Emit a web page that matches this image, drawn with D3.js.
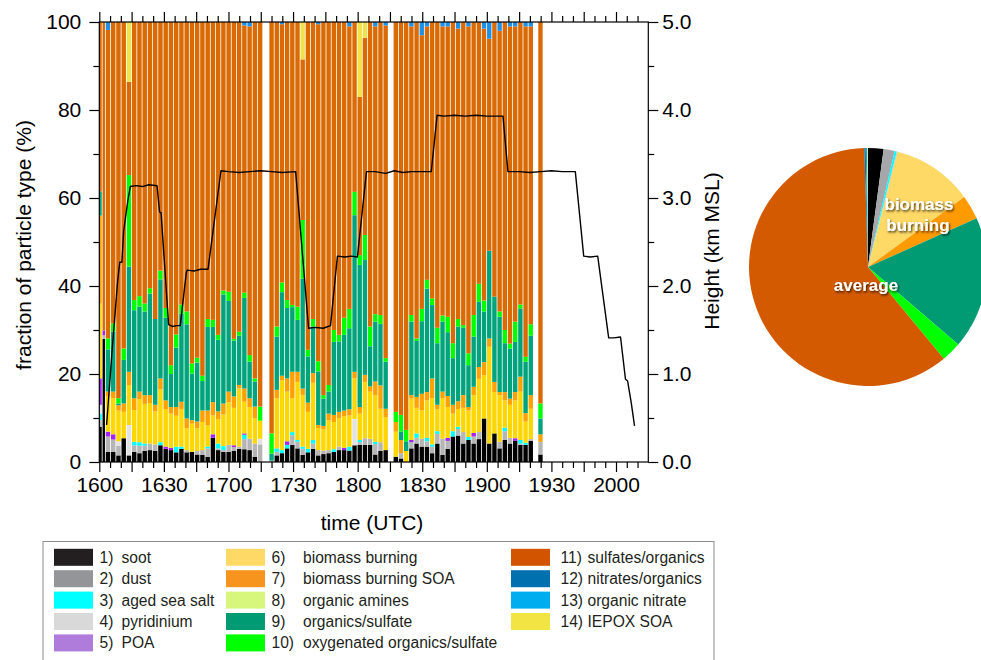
<!DOCTYPE html>
<html>
<head>
<meta charset="utf-8">
<title>Particle types and flight height</title>
<script src="https://cdn.jsdelivr.net/npm/d3@7"></script>
<style>
  body { margin: 0; background: #fff; }
  svg text { font-family: "Liberation Sans", Arial, Helvetica, sans-serif; }
</style>
</head>
<body>
<div id="chart"></div>
<script>
// ---- data ----

// particle classes, in stacking / legend order
var categories = ["soot", "dust", "aged sea salt", "pyridinium", "POA",
  "biomass burning", "biomass burning SOA", "organic amines", "organics/sulfate",
  "oxygenated organics/sulfate", "sulfates/organics", "nitrates/organics",
  "organic nitrate", "IEPOX SOA"];
var keys = ["soot", "dust", "seaSalt", "pyridinium", "poa", "biomass", "biomassSOA",
  "amines", "orgSulfate", "oxySulfate", "sulfates", "nitrates", "orgNitrate", "iepox"];

// sampling periods (minutes after 16:00 UTC) and number of bars in each
var segStart = [0, 3.0, 79.0, 136.7, 203.9];
var segEnd   = [3.0, 76.1, 134.4, 201.8, 206.3];
var segBars  = [2, 30, 23, 27, 1];

// fraction of particle type (%) per bar
var soot = [8, 28, 2.3, 2.3, 1.5, 5.4, 1.5, 2.3, 2, 2.5, 2.7, 2.5, 3.8, 3, 2.7, 2.2, 3, 2.2, 2.3, 1.7, 1.6, 1.2, 5.5, 2.7, 2.3, 2.3, 2.5, 3, 2.9, 2.7, 1.2, 0,
  0, 1.5, 2, 3.1, 3.9, 3.1, 1.6, 2.2, 3, 1.5, 1.8, 2, 2.3, 2.7, 2.7, 2.6, 3.8, 3.9, 3.9, 3.9, 1.7, 2.5, 2.7,
  1.2, 0.8, 0, 3.1, 4.2, 3.5, 3.5, 2, 4.2, 1.6, 3, 5.8, 6, 4.2, 5, 4.2, 5.2, 9.9, 4.2, 6.5, 3.1, 5, 4.2, 4.8, 3.9, 3.9, 4.8,
  1.7];
var dust = [1.5, 0.8, 3.5, 2.8, 2.2, 0, 0, 1.5, 1.7, 1.2, 1.5, 1.5, 0, 0, 0, 0, 0, 0.5, 0, 0.8, 1.1, 1.9, 0, 0.4, 0.4, 1.6, 0.9, 0.5, 2.3, 2.6, 3, 4,
  0.3, 0.8, 0, 0, 2.2, 1.5, 1.4, 0, 1.2, 1.2, 0.8, 0.7, 0, 0.8, 0, 0, 0, 0.6, 1.5, 1.4, 2.4, 2, 0,
  0, 1.2, 0, 1.4, 1.3, 1.8, 1.2, 1.5, 2.2, 3.7, 1.8, 0, 1.5, 2.6, 0, 1.6, 1.6, 0, 0, 0, 1.5, 2, 1.3, 0, 0.3, 0, 0.4,
  2.9];
var seaSalt = [1.5, 0, 0, 0, 0, 0, 0, 0.8, 0.8, 0.5, 0, 0, 0.7, 0, 0, 1.3, 0.5, 0, 0, 0, 0, 0.4, 0, 1.1, 0.9, 0, 0, 0, 1, 0, 0, 0,
  0, 0.8, 0.7, 0.8, 0.7, 0.4, 0.5, 0.8, 0.8, 0, 0, 0, 0.6, 0, 0, 0.9, 0, 0.5, 0, 0, 0.5, 0, 0,
  0, 0, 0, 0, 1, 0, 0.8, 0.5, 0.6, 0, 0, 1.2, 0.5, 0, 0.7, 0, 0, 0, 0, 0, 0, 0.8, 0, 0, 0.8, 0.5, 0,
  0];
var pyridinium = [2, 0, 0, 0, 1, 0, 6.9, 0, 0, 0, 0, 0, 0, 0, 0, 0, 0, 0, 0, 0, 0, 0, 0, 0, 0, 0, 0, 0, 0, 0, 0, 1.3,
  0, 0, 0, 0, 0, 0, 0, 0, 0, 0, 0, 0, 0, 0, 0, 0, 6, 0, 0, 0, 0, 0, 0,
  0, 0, 0, 0, 0, 0, 0, 0, 0, 0, 0, 0, 0, 0, 0, 0, 0, 0, 0, 0, 0, 0, 0, 0, 0, 0, 0,
  0];
var poa = [6, 1.1, 1.1, 1.2, 0, 0, 0, 0, 0, 0, 0, 0, 0, 0.5, 0.5, 0, 0, 0, 0, 0, 0, 0, 0.8, 0, 0, 0, 0.4, 0, 0.3, 0, 0, 0,
  0, 0, 0, 0.8, 0, 0, 0, 0, 0, 0, 0, 0, 0, 0, 0.5, 0, 0, 0, 0, 0, 0, 0, 0,
  0, 0, 0, 0.5, 0, 0, 0, 0, 0, 0, 0.7, 0, 0, 0, 0, 0.8, 0, 0, 0, 0, 0, 0, 0, 0.6, 0, 0, 0,
  0];
var biomass = [17, 0, 8, 8.2, 7, 6, 9.1, 7.2, 9.8, 9, 9.2, 7.5, 12, 8.5, 7.8, 7, 8.5, 5, 6.4, 5.2, 6.4, 4.8, 4.3, 5.5, 7.2, 9.7, 8.5, 13.2, 7.2, 7.2, 5.8, 4.1,
  0, 11.4, 15.8, 11.3, 7.7, 13.2, 11.7, 8.4, 13, 5, 4.8, 6.8, 6.2, 6.5, 7.2, 7.1, 9.2, 6, 12.8, 10.7, 10.6, 7.6, 7.5,
  5.7, 0, 2.5, 9.4, 5.8, 6.4, 8.5, 10.5, 5, 9.2, 7, 4, 4, 5.5, 6, 8.6, 12.1, 9.8, 22, 9.4, 10.6, 6.2, 7.5, 8.6, 11, 4.8, 6.9,
  0];
var biomassSOA = [20, 0, 1.1, 1.5, 1.2, 1.9, 3, 2.7, 1.7, 2, 1.8, 1.5, 2.5, 2, 1.5, 2, 1.7, 2.2, 0.8, 1.5, 2.6, 3.4, 3, 1.8, 2.5, 2.4, 2.6, 0.8, 3, 2, 2.6, 0,
  0, 1.9, 1.1, 3, 6, 2.3, 1.5, 2.1, 2.2, 0.7, 0.8, 1.5, 1.6, 1.4, 1.3, 1.4, 1.5, 1.5, 1.6, 1.2, 3.1, 5.3, 1.9,
  2.2, 3, 0, 0.8, 2.5, 3.8, 1.9, 4.5, 1, 1.5, 2.5, 2, 1.8, 2.9, 0.8, 1.9, 2.7, 3, 1.9, 2.3, 0.7, 1.9, 1.4, 1.9, 3.4, 1.9, 3.1,
  1.7];
var amines = [0, 0, 0, 0, 0, 0, 0, 0, 0, 0, 0, 0, 0, 0, 0, 0, 0, 0, 0, 0, 0, 0, 0, 0, 0, 0, 0, 0, 0, 0, 0, 0,
  0, 0, 0, 0, 0, 0, 0, 0, 0, 0, 0, 0, 0, 0, 0, 0, 0, 0, 0, 0, 0, 0, 0,
  0, 0, 0, 0, 0, 0, 0, 0, 0, 0, 0, 0, 0, 0, 0, 0, 0, 0, 0, 0, 0, 0, 0, 0, 0, 0, 0,
  0];
var orgSulfate = [5.5, 0, 9.6, 13.6, 0.4, 9.9, 23.9, 20, 19.3, 19, 23.1, 19.5, 22.5, 18.8, 7.5, 13.5, 20, 21.4, 10.6, 13.4, 6.7, 19, 17.1, 16.3, 24.8, 20.6, 12.7, 11.2, 20.6, 8.3, 5.7, 0,
  1.6, 12.1, 19, 16, 14.7, 11.8, 25, 10.5, 10.6, 12.2, 6.2, 5, 16.6, 16, 17.2, 18.4, 35.6, 32.3, 26.1, 9.1, 13.6, 14, 10.7,
  0, 1.9, 2.2, 16.7, 12.7, 16.5, 23.5, 16.7, 14, 15.9, 14.5, 10.6, 17, 15.3, 9.5, 11.4, 14.8, 11.5, 19.9, 19.4, 17.1, 11.1, 11.4, 11.4, 15.5, 11.7, 13.5,
  3.6];
var oxySulfate = [0, 0, 2.5, 1.9, 1.2, 2.6, 20.8, 2.3, 2.4, 1.8, 1.2, 0, 2, 2.2, 2, 3, 2.1, 2.9, 2.3, 1.1, 1.2, 1.8, 1.6, 1.1, 0.9, 2.1, 0.4, 0.9, 1.2, 1.5, 0.7, 3.2,
  4.6, 2.3, 2.2, 1.8, 0.5, 3, 13.3, 1.5, 1.7, 2.3, 0.8, 1.5, 2.7, 1.5, 3.9, 4.4, 5.3, 2.2, 5.7, 4.5, 1.7, 2, 0.8,
  2.3, 3.8, 2.6, 1.5, 0.6, 2.8, 2, 1.5, 3.5, 1.4, 3.5, 3.4, 1.7, 0.6, 2.7, 4.9, 4.1, 2.5, 0, 0, 1.2, 3, 1.1, 4.6, 0.9, 1.1, 2.6,
  3.4];
var sulfates = [38.5, 70.1, 70.1, 68.5, 85.5, 74.2, 21.2, 63.2, 62.3, 64, 60.5, 67.5, 56.5, 65, 78, 71, 64.2, 65.8, 77.6, 76.3, 80.4, 67.5, 67.7, 71.1, 61, 61.3, 72, 70.4, 60.7, 74.7, 81, 87.4,
  93.5, 69.2, 58.7, 63.2, 64.3, 64.7, 36.5, 74.5, 67.5, 76.6, 84.8, 82.5, 70, 71.1, 67.2, 64.2, 38.6, 36, 44.8, 69.2, 65.4, 66.6, 75.6,
  88.6, 89.3, 92.7, 65.6, 71.9, 62.2, 57.6, 62.8, 69.5, 65.7, 66, 73, 66, 68.9, 74.3, 66.6, 59.5, 61.8, 48.2, 62.4, 63.8, 70, 72.1, 67.1, 64.2, 75.1, 67.7,
  86.7];
var nitrates = [0, 0, 0, 0, 0, 0, 0, 0, 0, 0, 0, 0, 0, 0, 0, 0, 0, 0, 0, 0, 0, 0, 0, 0, 0, 0, 0, 0, 0, 0, 0, 0,
  0, 0, 0, 0, 0, 0, 0, 0, 0, 0, 0, 0, 0, 0, 0, 0, 0, 0, 0, 0, 0, 0, 0,
  0, 0, 0, 0, 0, 0, 0, 0, 0, 0, 0, 0, 0, 0, 0, 0, 0, 0, 0, 0, 0, 0, 0, 0, 0, 0, 0,
  0];
var orgNitrate = [0, 0, 1.8, 0, 0, 0, 0, 0, 0, 0, 0, 0, 0, 0, 0, 0, 0, 0, 0, 0, 0, 0, 0, 0, 0, 0, 0, 0, 0.8, 1, 0, 0,
  0, 0, 0.5, 0, 0, 0, 0, 0, 0, 0.5, 0, 0, 0, 0, 0, 1, 0, 0, 0, 0, 1, 0, 0.8,
  0, 0, 0, 1, 0, 3, 1, 0, 0, 1, 1, 0, 1.5, 0, 1, 0, 0, 1.5, 3.8, 0, 2, 0, 1, 1, 0, 1, 1,
  0];
var iepox = [0, 0, 0, 0, 0, 0, 13.6, 0, 0, 0, 0, 0, 0, 0, 0, 0, 0, 0, 0, 0, 0, 0, 0, 0, 0, 0, 0, 0, 0, 0, 0, 0,
  0, 0, 0, 0, 0, 0, 8.5, 0, 0, 0, 0, 0, 0, 0, 0, 0, 0, 17, 3.6, 0, 0, 0, 0,
  0, 0, 0, 0, 0, 0, 0, 0, 0, 0, 0, 0, 0, 0, 0, 0, 0, 0, 0, 0, 0, 0, 0, 0, 0, 0, 0,
  0];

// flight altitude (minutes after 16:00, km MSL)
var heightTime = [3.4, 5.9, 8.5, 9.5, 10.5, 11.3, 13.2, 14.4, 17, 20, 23, 26.8, 28, 28.7, 32.2, 34, 36, 37.6, 40.4, 40.8, 44, 47, 50.5,
  56.5, 60, 65, 70, 75, 80, 85, 91.2, 97.2, 100, 104, 107.4, 110.6, 114, 117, 119.9, 124.1, 128, 133, 137, 141, 145, 150, 154.2,
  156.9, 160, 165, 170, 175, 180, 187.5, 189.8, 195, 200, 205, 210, 215, 221.1, 225, 228, 231.5, 236.6, 239, 242.1, 244.4, 245.4, 247.1, 248.6];
var heightKm = [0.42, 1.25, 2.05, 2.27, 2.27, 2.62, 2.96, 3.13, 3.14, 3.13, 3.15, 3.14, 2.84, 2.83, 1.56, 1.54, 1.55, 1.55, 2.15, 2.18, 2.17, 2.19, 2.19,
  3.31, 3.30, 3.29, 3.30, 3.31, 3.30, 3.29, 3.30, 1.52, 1.53, 1.52, 1.55, 2.34, 2.33, 2.34, 2.33, 3.30, 3.30, 3.28, 3.31, 3.29, 3.30, 3.30, 3.30,
  3.94, 3.93, 3.94, 3.93, 3.94, 3.93, 3.93, 3.30, 3.30, 3.29, 3.30, 3.31, 3.30, 3.30, 2.34, 2.33, 2.34, 1.41, 1.41, 1.42, 0.94, 0.92, 0.67, 0.41];

// flight-average composition (%) shown in the pie
var pieValues = [2.1, 1.5, 0.3, 0.05, 0.05, 11.0, 3.3, 0, 18.0, 2.7, 60.5, 0.2, 0.2, 0.1];

var xMajor = [0, 15, 30, 45, 60, 75, 90, 105, 120, 135, 150, 165, 180, 195, 210, 225, 240];
var yTicks = [0, 20, 40, 60, 80, 100];
var hTicks = [0, 1, 2, 3, 4, 5];

// ---- styles ----
var barColors = ["#000000", "#b5b5b5", "#00ffff", "#e2e2e2", "#a323f0", "#ffd700", "#ffa200",
  "#d6f77c", "#00a47c", "#00ff00", "#d96a04", "#0070ae", "#1e90e6", "#f2e24a"];
var legendColors = ["#231f20", "#939598", "#00ffff", "#d9d9d9", "#b07cdc", "#ffd966", "#f7941d",
  "#d6f77c", "#009b72", "#00ff00", "#d35400", "#0070ae", "#00aeef", "#f1e443"];
var pieColors = ["#000000", "#a5a7aa", "#00ffff", "#d9d9d9", "#b07cdc", "#ffd966", "#ff9a00",
  "#d6f77c", "#009b72", "#00ff00", "#d35a00", "#0070ae", "#00aeef", "#f1e443"];

var width = 981,
    height = 660;

var series = { soot: soot, dust: dust, seaSalt: seaSalt, pyridinium: pyridinium, poa: poa,
  biomass: biomass, biomassSOA: biomassSOA, amines: amines, orgSulfate: orgSulfate,
  oxySulfate: oxySulfate, sulfates: sulfates, nitrates: nitrates, orgNitrate: orgNitrate, iepox: iepox };

// Create the SVG container.

var svg = d3.select("#chart")
    .append("svg")
    .attr("width", width)
    .attr("height", height);

var defs = svg.append("defs");
defs.append("filter")
    .attr("id", "shadow")
    .attr("x", "-20%").attr("y", "-40%").attr("width", "140%").attr("height", "180%")
  .append("feDropShadow")
    .attr("dx", 1).attr("dy", 1.5)
    .attr("stdDeviation", 1)
    .attr("flood-color", "#000")
    .attr("flood-opacity", 0.75);

// Scales

var x = d3.scaleLinear().domain([0, 255]).range([99.3, 648.3]);
var y = d3.scaleLinear().domain([0, 100]).range([462, 22]);
var yH = d3.scaleLinear().domain([0, 5]).range([462, 22]);

// Bars: one bar per sample inside each sampling period

var barStart = [], barEnd = [];
segStart.forEach(function(s, k) {
  var w = (segEnd[k] - s) / segBars[k];
  for (var i = 0; i < segBars[k]; i++) {
    barStart.push(s + i * w);
    barEnd.push(s + (i + 1) * w);
  }
});

var rows = barStart.map(function(t, i) {
  var r = { t0: t, t1: barEnd[i] };
  keys.forEach(function(k) { r[k] = series[k][i]; });
  return r;
});

var stacked = d3.stack().keys(keys)(rows);

svg.append("g")
    .selectAll("g")
    .data(stacked)
    .enter().append("g")
    .attr("fill", function(d, i) { return barColors[i]; })
    .selectAll("rect")
    .data(function(d) { return d; })
    .enter().append("rect")
    .attr("x", function(d) { return x(d.data.t0); })
    .attr("width", function(d) { return x(d.data.t1) - x(d.data.t0) - 0.8; })
    .attr("y", function(d) { return y(d[1]); })
    .attr("height", function(d) { return Math.max(0, y(d[0]) - y(d[1])); });

// Height line

var heightData = heightTime.map(function(t, i) { return { t: t, h: heightKm[i] }; });

svg.append("path")
    .datum(heightData)
    .attr("fill", "none")
    .attr("stroke", "#000")
    .attr("stroke-width", 1.4)
    .attr("stroke-linejoin", "round")
    .attr("d", d3.line()
        .x(function(d) { return x(d.t); })
        .y(function(d) { return yH(d.h); }));

// Frame

svg.append("rect")
    .attr("x", x(0)).attr("y", y(100))
    .attr("width", x(255) - x(0)).attr("height", y(0) - y(100))
    .attr("fill", "none")
    .attr("stroke", "#000")
    .attr("stroke-width", 1.2);

// Axes

function hhmm(m) {
  var t = 16 * 60 + m;
  return String(Math.floor(t / 60)) + String(t % 60).padStart(2, "0");
}

function styleAxis(g) {
  g.attr("font-size", 21).attr("font-family", null);
  g.select(".domain").remove();
  g.selectAll("line").attr("stroke", "#000").attr("stroke-width", 1.2);
  g.selectAll("text").attr("fill", "#000");
}

var xMinor = d3.range(0, 255, 5).filter(function(m) { return m % 15 !== 0; });

svg.append("g")
    .attr("transform", "translate(0," + y(0) + ")")
    .call(d3.axisBottom(x).tickValues(xMajor).tickSize(10).tickSizeOuter(0).tickPadding(5)
        .tickFormat(function(m) { return m % 30 === 0 ? hhmm(m) : ""; }))
    .call(styleAxis);
svg.append("g")
    .attr("transform", "translate(0," + y(0) + ")")
    .call(d3.axisBottom(x).tickValues(xMinor).tickSize(6).tickSizeOuter(0).tickFormat(""))
    .call(styleAxis);
svg.append("g")
    .attr("transform", "translate(0," + y(100) + ")")
    .call(d3.axisTop(x).tickValues(xMajor).tickSize(10).tickSizeOuter(0).tickFormat(""))
    .call(styleAxis);
svg.append("g")
    .attr("transform", "translate(0," + y(100) + ")")
    .call(d3.axisTop(x).tickValues(xMinor).tickSize(6).tickSizeOuter(0).tickFormat(""))
    .call(styleAxis);

svg.append("g")
    .attr("transform", "translate(" + x(0) + ",0)")
    .call(d3.axisLeft(y).tickValues(yTicks).tickSize(10).tickSizeOuter(0).tickPadding(8))
    .call(styleAxis);
svg.append("g")
    .attr("transform", "translate(" + x(0) + ",0)")
    .call(d3.axisLeft(y).tickValues([10, 30, 50, 70, 90]).tickSize(6).tickSizeOuter(0).tickFormat(""))
    .call(styleAxis);

svg.append("g")
    .attr("transform", "translate(" + x(255) + ",0)")
    .call(d3.axisRight(yH).tickValues(hTicks).tickSize(10).tickSizeOuter(0).tickPadding(4)
        .tickFormat(d3.format(".1f")))
    .call(styleAxis);
svg.append("g")
    .attr("transform", "translate(" + x(255) + ",0)")
    .call(d3.axisRight(yH).tickValues([0.5, 1.5, 2.5, 3.5, 4.5]).tickSize(6).tickSizeOuter(0).tickFormat(""))
    .call(styleAxis);

// Axis titles

svg.append("text")
    .attr("x", 372).attr("y", 530)
    .attr("text-anchor", "middle")
    .attr("font-size", 21)
    .text("time (UTC)");

svg.append("text")
    .attr("transform", "translate(31,245) rotate(-90)")
    .attr("text-anchor", "middle")
    .attr("font-size", 21)
    .text("fraction of particle type (%)");

svg.append("text")
    .attr("transform", "translate(719,251) rotate(-90)")
    .attr("text-anchor", "middle")
    .attr("font-size", 21)
    .text("Height (km MSL)");

// Pie of the average composition

var pie = d3.pie().sort(null).value(function(d) { return d; });
var arc = d3.arc().innerRadius(0).outerRadius(119);

var pieG = svg.append("g").attr("transform", "translate(868,267)");

pieG.selectAll("path")
    .data(pie(pieValues))
    .enter().append("path")
    .attr("d", arc)
    .attr("fill", function(d, i) { return pieColors[i]; });

var pieLabels = [
  { text: "biomass", x: 51, y: -57 },
  { text: "burning", x: 50, y: -36 },
  { text: "average", x: -2, y: 24 }
];

pieG.selectAll("text")
    .data(pieLabels)
    .enter().append("text")
    .attr("x", function(d) { return d.x; })
    .attr("y", function(d) { return d.y; })
    .attr("text-anchor", "middle")
    .attr("font-size", 17)
    .attr("font-weight", "bold")
    .attr("fill", "#fff")
    .attr("filter", "url(#shadow)")
    .text(function(d) { return d.text; });

// Legend

var legend = svg.append("g").attr("class", "legend");

legend.append("rect")
    .attr("x", 43).attr("y", 541.5)
    .attr("width", 671).attr("height", 140)
    .attr("fill", "none")
    .attr("stroke", "#8c8c8c")
    .attr("stroke-width", 1);

var colSwatch = [54, 226, 511],
    colNum = [99.5, 271.5, 560.5],
    colLabel = [121.5, 303, 587.5];

var item = legend.selectAll("g.item")
    .data(categories)
    .enter().append("g")
    .attr("class", "item")
    .attr("transform", function(d, i) {
      var row = i < 10 ? i % 5 : i - 10;
      return "translate(0," + (557.3 + row * 21.4) + ")";
    });

function col(i) { return i < 5 ? 0 : (i < 10 ? 1 : 2); }

item.append("rect")
    .attr("x", function(d, i) { return colSwatch[col(i)]; })
    .attr("y", -8.5)
    .attr("width", 39).attr("height", 17)
    .attr("fill", function(d, i) { return legendColors[i]; });

item.append("text")
    .attr("x", function(d, i) { return colNum[col(i)]; })
    .attr("y", 5.5)
    .attr("font-size", 15.6)
    .attr("fill", "#231f20")
    .text(function(d, i) { return (i + 1) + ")"; });

item.append("text")
    .attr("x", function(d, i) { return colLabel[col(i)]; })
    .attr("y", 5.5)
    .attr("font-size", 15.6)
    .attr("fill", "#231f20")
    .text(function(d) { return d; });
</script>
</body>
</html>
